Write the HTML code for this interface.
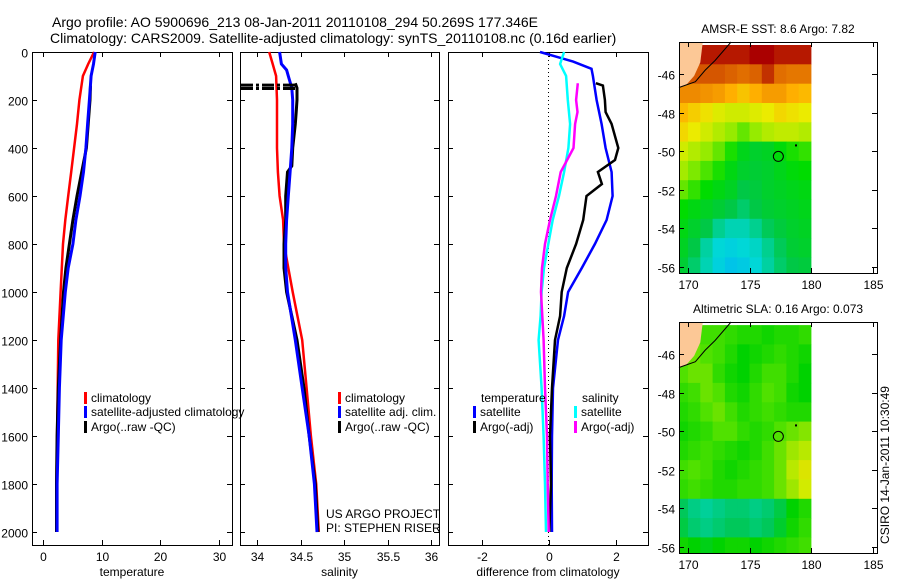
<!DOCTYPE html>
<html><head><meta charset="utf-8">
<style>
body{margin:0;background:#fff;}
svg{display:block;font-family:"Liberation Sans",sans-serif;}
text{fill:#000;}
</style></head>
<body>
<svg id="fig" width="900" height="580" viewBox="0 0 900 580" xmlns="http://www.w3.org/2000/svg">
<text x="52" y="27" font-size="14">Argo profile: AO 5900696_213 08-Jan-2011 20110108_294 50.269S 177.346E</text>
<text x="50" y="43" font-size="14">Climatology: CARS2009. Satellite-adjusted climatology: synTS_20110108.nc (0.16d earlier)</text>
<g id="g"></g>
</svg>
<script>
// ---- profile data ----
const depthTicks=[0,200,400,600,800,1000,1200,1400,1600,1800,2000];
const tempTicks=[0,10,20,30];
const salTicks=[34,34.5,35,35.5,36];
const salTickLabels=["34","34.5","35","35.5","36"];
const diffTicks=[-2,0,2];

const tClimD=[0,50,100,200,300,400,500,600,700,800,900,1000,1200,1400,1600,1800,2000];
const tClimV=[8.7,7.7,6.8,6.2,5.8,5.3,4.8,4.3,3.8,3.4,3.2,3.0,2.6,2.5,2.4,2.3,2.3];
const tSatD=[0,50,100,200,300,400,500,600,700,800,900,1000,1200,1400,1600,1800,2000];
const tSatV=[8.9,8.6,8.2,7.9,7.6,7.3,6.9,6.3,5.6,5.1,4.3,3.8,3.1,2.8,2.6,2.4,2.4];
const tArgoD=[140,200,300,400,500,600,700,800,900,1000,1200,1400,1600,1800,2000];
const tArgoV=[8.1,8.0,7.7,7.4,6.6,5.8,5.1,4.5,3.9,3.5,3.0,2.6,2.4,2.3,2.3];

const sClimD=[0,50,100,200,300,400,500,600,700,800,900,1000,1200,1400,1600,1800,2000];
const sClimV=[34.14,34.18,34.22,34.23,34.23,34.23,34.24,34.26,34.30,34.31,34.36,34.41,34.52,34.57,34.62,34.68,34.71];
const sSatD=[0,50,75,100,150,200,300,400,500,600,700,800,900,1000,1200,1400,1600,1800,2000];
const sSatV=[34.26,34.28,34.34,34.36,34.40,34.41,34.41,34.40,34.38,34.36,34.34,34.33,34.33,34.35,34.44,34.52,34.60,34.66,34.69];
const sArgoD=[130,150,200,250,300,400,475,500,600,700,800,900,1000,1200,1400,1600,1800,2000];
const sArgoV=[34.44,34.46,34.46,34.45,34.44,34.41,34.40,34.35,34.33,34.33,34.31,34.31,34.34,34.46,34.54,34.60,34.67,34.70];

const dTSatD=[0,20,40,70,100,200,300,400,500,600,700,800,900,1000,1100,1200,1400,1600,1800,2000];
const dTSatV=[-0.27,0.23,0.72,1.27,1.31,1.42,1.57,1.69,1.87,1.90,1.72,1.37,0.98,0.57,0.45,0.27,0.12,0.09,0.08,0.09];
const dTArgoD=[130,140,200,250,300,400,450,500,550,600,700,800,900,1000,1100,1200,1400,1600,1800,2000];
const dTArgoV=[1.40,1.61,1.67,1.69,1.87,2.07,1.97,1.46,1.58,1.12,1.02,0.81,0.53,0.38,0.33,0.18,0.09,0.03,0.06,0.01];
const dSSatD=[0,50,100,200,300,400,500,600,700,800,900,1000,1100,1200,1400,1600,1800,2000];
const dSSatV=[0.45,0.33,0.51,0.56,0.63,0.58,0.45,0.30,0.11,-0.02,-0.15,-0.22,-0.25,-0.31,-0.22,-0.16,-0.12,-0.09];
const dSArgoD=[130,200,250,300,400,500,600,700,800,900,1000,1200,1400,1600,1800,2000];
const dSArgoV=[0.86,0.81,0.85,0.78,0.73,0.35,0.21,0.03,-0.12,-0.21,-0.24,-0.16,-0.12,-0.06,-0.04,-0.01];

// ---- map data (rows lat -45..-56, cols lon 169.5..179.5) ----
const mapLats=[-45,-46,-47,-48,-49,-50,-51,-52,-53,-54,-55,-56];
const mapLons=[169.5,170.5,171.5,172.5,173.5,174.5,175.5,176.5,177.5,178.5,179.5];
const sstGrid=[
[11,11,11,11,11,11,11.2,11.5,11,11,11],
[10.5,10.5,10.5,10.5,10.4,10.3,10.4,10.8,10.3,10.2,10.2],
[10,10,9.9,9.8,9.6,9.4,9.6,9.8,9.8,9.6,9.5],
[9.5,9.3,9.1,8.9,8.8,8.8,8.9,9.0,9.2,9.1,9.0],
[9.2,9.0,8.8,8.6,8.4,8.2,8.4,8.6,8.7,8.7,8.6],
[8.8,8.6,8.4,8.2,7.9,7.5,7.3,7.4,7.7,7.9,8.0],
[8.5,8.3,8.1,7.9,7.6,7.3,7.2,7.3,7.5,7.7,7.8],
[8.2,8.0,7.8,7.6,7.4,7.0,7.1,7.3,7.4,7.5,7.6],
[7.8,7.6,7.4,7.2,7.0,6.8,7.0,7.2,7.3,7.4,7.5],
[7.6,7.3,7.0,6.6,6.4,6.4,6.6,6.9,7.1,7.3,7.4],
[7.4,7.0,6.5,6.2,6.1,6.2,6.3,6.6,6.9,7.2,7.3],
[7.2,6.8,6.4,6.1,5.9,6.0,6.2,6.5,6.8,7.0,7.1]];
const slaGrid=[
[0.05,0.05,0.04,0.04,0.03,0.02,0.02,0.01,0.02,0.02,0.03],
[0.06,0.06,0.05,0.04,0.02,0.00,0.01,0.02,0.03,0.02,0.01],
[0.05,0.06,0.06,0.03,0.01,0.00,0.02,0.04,0.04,0.02,0.00],
[0.03,0.04,0.06,0.05,0.02,0.01,0.03,0.05,0.04,0.01,0.00],
[0.02,0.03,0.05,0.06,0.04,0.02,0.03,0.04,0.03,0.02,0.02],
[0.01,0.02,0.03,0.05,0.05,0.03,0.02,0.03,0.05,0.06,0.07],
[0.02,0.03,0.04,0.03,0.02,0.01,0.02,0.04,0.06,0.08,0.09],
[0.04,0.05,0.04,0.02,0.01,0.02,0.03,0.04,0.06,0.09,0.11],
[0.03,0.04,0.03,0.02,0.02,0.03,0.03,0.04,0.06,0.08,0.10],
[-0.04,-0.06,-0.07,-0.06,-0.05,-0.05,-0.06,-0.05,-0.03,0.00,0.02],
[-0.03,-0.05,-0.06,-0.05,-0.04,-0.04,-0.05,-0.04,-0.02,0.01,0.03],
[0.01,0.00,-0.01,0.00,0.01,0.01,0.00,0.01,0.02,0.03,0.04]];
const mapLatTicks=[-46,-48,-50,-52,-54,-56];
const mapLonTicks=[170,175,180,185];

const NS="http://www.w3.org/2000/svg";
const G=document.getElementById('g');
function mk(tag,attrs,parent){const e=document.createElementNS(NS,tag);for(const k in attrs)e.setAttribute(k,attrs[k]);(parent||G).appendChild(e);return e;}
function txt(s,x,y,size,anchor,name,parent){const e=mk('text',{x:x,y:y,'font-size':size,'text-anchor':anchor||'start'},parent);e.textContent=s;return e;}

const TOP=52,BOT=545;
const yD=d=>TOP+d*0.24;
const panels=[
 {x0:32,x1:232,fx:v=>43+v*5.87,ticks:tempTicks,labels:tempTicks.map(String),label:'temperature',name:'temperature'},
 {x0:240,x1:439,fx:v=>257+(v-34)*87,ticks:salTicks,labels:salTickLabels,label:'salinity',name:'salinity'},
 {x0:448,x1:648,fx:v=>549+v*33.5,ticks:diffTicks,labels:diffTicks.map(String),label:'difference from climatology',name:'difference'}
];
panels.forEach((p,i)=>{
  const pg=mk('g',{});
  
  
  const r=mk('rect',{x:p.x0+0.5,y:TOP+0.5,width:p.x1-p.x0,height:BOT-TOP,fill:'none',stroke:'#000','stroke-width':1},pg);
  
  
  p.ticks.forEach((t,j)=>{
    const x=Math.round(p.fx(t))+0.5;
    mk('line',{x1:x,x2:x,y1:BOT,y2:BOT-5,stroke:'#000'},pg);
    mk('line',{x1:x,x2:x,y1:TOP,y2:TOP+5,stroke:'#000'},pg);
    txt(p.labels[j],x,BOT+16,12,'middle',p.name+'-x-tick-label',pg);
  });
  depthTicks.forEach(d=>{
    const y=Math.round(yD(d))+0.5;
    mk('line',{x1:p.x0,x2:p.x0+5,y1:y,y2:y,stroke:'#000'},pg);
    mk('line',{x1:p.x1-5,x2:p.x1,y1:y,y2:y,stroke:'#000'},pg);
    if(i===0) txt(String(d),28,y+5,12,'end','depth-tick-label',pg);
  });
  txt(p.label,(p.x0+p.x1)/2,BOT+31,12,'middle',p.name+'-x-axis-title',pg);
});

function series(D,V,fx,color,w,name){
  let s='';D.forEach((d,k)=>{s+=(k?'L':'M')+fx(V[k]).toFixed(1)+','+yD(d).toFixed(1);});
  const e=mk('path',{d:s,fill:'none',stroke:color,'stroke-width':w,'stroke-linejoin':'miter'});
  
  
}
const P=panels;
series(tClimD,tClimV,P[0].fx,'#f00',2.5,'temperature-climatology-line');
series(tArgoD,tArgoV,P[0].fx,'#000',3,'temperature-argo-line');
series(tSatD,tSatV,P[0].fx,'#00f',3,'temperature-satellite-line');
series(sClimD,sClimV,P[1].fx,'#f00',2.5,'salinity-climatology-line');
series(sArgoD,sArgoV,P[1].fx,'#000',3,'salinity-argo-line');
series(sSatD,sSatV,P[1].fx,'#00f',3,'salinity-satellite-line');
[138,152].forEach(d=>{
  const e=mk('line',{x1:241,x2:P[1].fx(34.45),y1:yD(d),y2:yD(d),stroke:'#000','stroke-width':3,'stroke-dasharray':'12,3,3,3'});
  
  
});
{const e=mk('line',{x1:548.5,x2:548.5,y1:TOP,y2:BOT,stroke:'#000','stroke-width':1,'stroke-dasharray':'1,3'});
 }
series(dTSatD,dTSatV,P[2].fx,'#00f',2.5,'diff-temperature-satellite-line');
series(dTArgoD,dTArgoV,P[2].fx,'#000',2.5,'diff-temperature-argo-line');
series(dSSatD,dSSatV,P[2].fx,'#0ff',2.5,'diff-salinity-satellite-line');
series(dSArgoD,dSArgoV,P[2].fx,'#f0f',2.5,'diff-salinity-argo-line');

function legend(x,y,color,label,name){
  const g=mk('g',{});
  
  
  mk('rect',{x:x,y:y-10,width:3,height:12,fill:color},g);
  txt(label,x+7,y,12,'start',name+'-label',g);
}
legend(84,402,'#f00','climatology','legend-temp-climatology');
legend(84,416,'#00f','satellite-adjusted climatology','legend-temp-satellite');
legend(84,431,'#000','Argo(..raw -QC)','legend-temp-argo');
legend(338,402,'#f00','climatology','legend-sal-climatology');
legend(338,416,'#00f','satellite adj. clim.','legend-sal-satellite');
legend(338,431,'#000','Argo(..raw -QC)','legend-sal-argo');
txt('temperature',481,402,12,'start','legend-temperature-heading');
txt('salinity',582,402,12,'start','legend-salinity-heading');
legend(473,416,'#00f','satellite','legend-diff-temp-satellite');
legend(473,431,'#000','Argo(-adj)','legend-diff-temp-argo');
legend(574,416,'#0ff','satellite','legend-diff-sal-satellite');
legend(574,431,'#f0f','Argo(-adj)','legend-diff-sal-argo');
txt('US ARGO PROJECT',326,518,12,'start','project-credit');
txt('PI: STEPHEN RISER',326,532,12,'start','pi-credit');

// ---- maps ----
function lerpStops(stops,v){
  if(v<=stops[0][0])return stops[0][1];
  for(let i=1;i<stops.length;i++){if(v<=stops[i][0]){const a=stops[i-1],b=stops[i],t=(v-a[0])/(b[0]-a[0]);
    return 'rgb('+a[1].map((c,k)=>Math.round(c+(b[1][k]-c)*t)).join(',')+')';}}
  return stops[stops.length-1][1];
}
function toRgb(c){return typeof c==='string'?c:'rgb('+c.join(',')+')';}
const sstStops=[[5.5,[0,170,255]],[6.2,[0,215,215]],[7.0,[0,200,70]],[7.8,[0,220,0]],[8.4,[150,235,0]],[9.0,[235,235,0]],[9.6,[255,175,0]],[10.3,[225,110,0]],[11.2,[170,0,0]]];
const slaStops=[[-0.1,[0,215,215]],[-0.04,[0,200,90]],[0.0,[0,210,0]],[0.05,[80,225,0]],[0.1,[210,235,0]],[0.15,[255,200,0]]];

function drawMap(top,grid,stops,title,name){
  const L=679,R=877,B=top+231;
  const fx=lon=>688+(lon-170)*12.3, fy=lat=>top+32-(lat+46)*19.3;
  const mg=mk('g',{});
  
  
  txt(title,778,top-9,12,'middle',name+'-title',mg);
  grid.forEach((row,ri)=>row.forEach((v,ci)=>{
    let x0=fx(mapLons[ci]-0.5),x1=fx(mapLons[ci]+0.5),y0=fy(mapLats[ri]+0.5),y1=fy(mapLats[ri]-0.5);
    x0=Math.max(x0,L);x1=Math.min(x1,813);y0=Math.max(y0,top+1);y1=Math.min(y1,B);
    const c=mk('rect',{x:x0.toFixed(1),y:y0.toFixed(1),width:(x1-x0+0.4).toFixed(1),height:(y1-y0+0.4).toFixed(1),fill:toRgb(lerpStops(stops,v))},mg);
    
    
  }));
  const land=mk('polygon',{points:`${L},${top} ${fx(171.2)},${top} ${fx(171)},${fy(-45.4)} ${fx(170.5)},${fy(-46.1)} ${fx(169.8)},${fy(-46.6)} ${L},${fy(-46.7)}`,fill:'#fcc896'},mg);
  
  const coast=mk('polyline',{points:`${fx(173.5)},${top} ${fx(172.2)},${fy(-45.3)} ${fx(171.4)},${fy(-45.8)} ${fx(170.6)},${fy(-46.4)} ${L},${fy(-46.7)}`,fill:'none',stroke:'#000','stroke-width':1},mg);
  
  const c=mk('circle',{cx:fx(177.346),cy:fy(-50.269),r:5,fill:'none',stroke:'#000'},mg);
  
  mk('rect',{x:fx(178.7),y:fy(-49.7)-1,width:2,height:2,fill:'#000'},mg);
  const fr=mk('rect',{x:L+0.5,y:top+0.5,width:R-L,height:B-top,fill:'none',stroke:'#000'},mg);
  
  mapLatTicks.forEach(t=>{const y=Math.round(fy(t))+0.5;
    mk('line',{x1:L,x2:L+5,y1:y,y2:y,stroke:'#000'},mg);mk('line',{x1:R-5,x2:R,y1:y,y2:y,stroke:'#000'},mg);
    txt(String(t),675,y+5,12,'end',name+'-lat-label',mg);});
  mapLonTicks.forEach(t=>{const x=Math.round(fx(t))+0.5;
    mk('line',{x1:x,x2:x,y1:B,y2:B-5,stroke:'#000'},mg);mk('line',{x1:x,x2:x,y1:top,y2:top+5,stroke:'#000'},mg);
    txt(String(t),x,B+16,12,'middle',name+'-lon-label',mg);});
}
drawMap(42,sstGrid,sstStops,'AMSR-E SST: 8.6 Argo: 7.82','sst-map');
drawMap(322,slaGrid,slaStops,'Altimetric SLA: 0.16 Argo: 0.073','sla-map');

const cs=txt('CSIRO 14-Jan-2011 10:30:49',0,0,12,'middle','csiro-timestamp');
cs.setAttribute('transform','translate(889,465) rotate(-90)');
</script>
</body></html>
